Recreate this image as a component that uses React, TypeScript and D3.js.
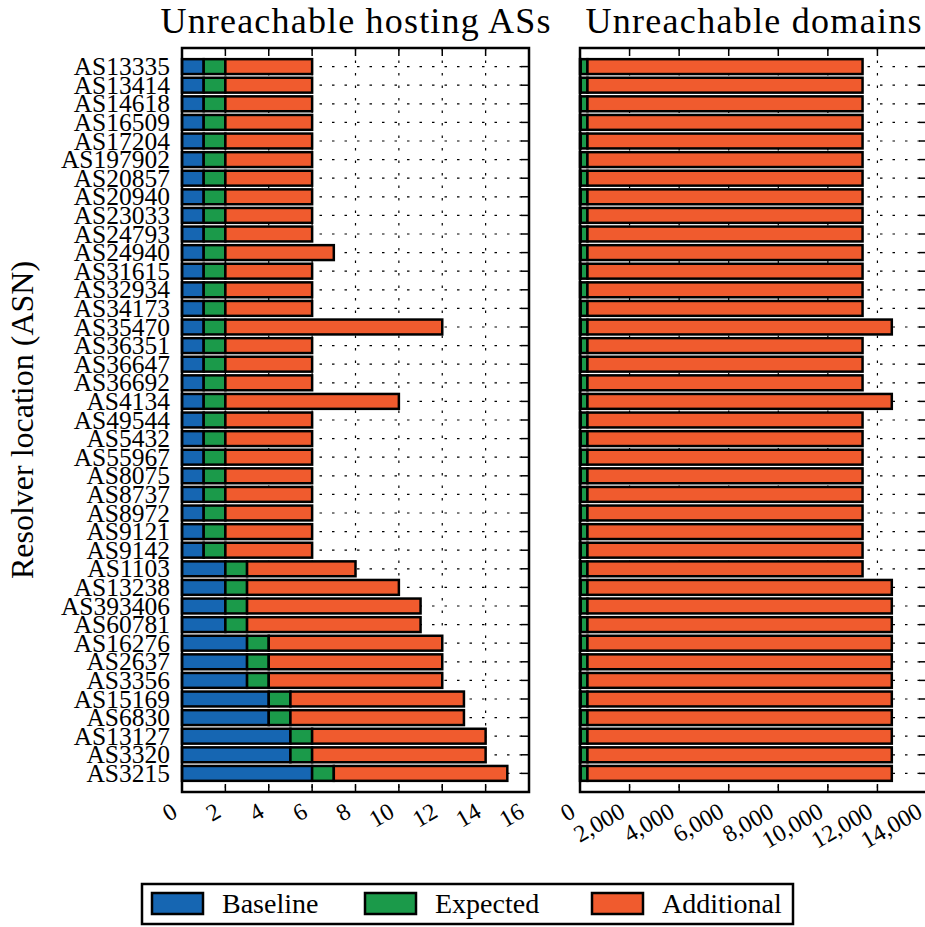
import { useEffect, useRef } from 'react';
import * as d3 from 'd3';

// resolver locations, top to bottom
const asns = [
  'AS13335', 'AS13414', 'AS14618', 'AS16509', 'AS17204', 'AS197902', 'AS20857', 'AS20940',
  'AS23033', 'AS24793', 'AS24940', 'AS31615', 'AS32934', 'AS34173', 'AS35470', 'AS36351',
  'AS36647', 'AS36692', 'AS4134', 'AS49544', 'AS5432', 'AS55967', 'AS8075', 'AS8737',
  'AS8972', 'AS9121', 'AS9142', 'AS1103', 'AS13238', 'AS393406', 'AS60781', 'AS16276',
  'AS2637', 'AS3356', 'AS15169', 'AS6830', 'AS13127', 'AS3320', 'AS3215',
];

// unreachable hosting ASs
const hostBaseline = [
  1, 1, 1, 1, 1, 1, 1, 1, 1, 1, 1, 1, 1, 1, 1, 1, 1, 1, 1, 1, 1, 1, 1, 1, 1, 1, 1,
  2, 2, 2, 2, 3, 3, 3, 4, 4, 5, 5, 6,
];
const hostExpected = [
  1, 1, 1, 1, 1, 1, 1, 1, 1, 1, 1, 1, 1, 1, 1, 1, 1, 1, 1, 1, 1, 1, 1, 1, 1, 1, 1,
  1, 1, 1, 1, 1, 1, 1, 1, 1, 1, 1, 1,
];
const hostAdditional = [
  4, 4, 4, 4, 4, 4, 4, 4, 4, 4, 5, 4, 4, 4, 10, 4, 4, 4, 8, 4, 4, 4, 4, 4, 4, 4, 4,
  5, 7, 8, 8, 8, 8, 8, 8, 8, 8, 8, 8,
];

// unreachable domains
const domBaseline = [
  30, 30, 30, 30, 30, 30, 30, 30, 30, 30, 30, 30, 30, 30, 30, 30, 30, 30, 30, 30, 30, 30, 30, 30, 30, 30, 30,
  30, 30, 30, 30, 30, 30, 30, 30, 30, 30, 30, 30,
];
const domExpected = [
  270, 270, 270, 270, 270, 270, 270, 270, 270, 270, 270, 270, 270, 270, 270, 270, 270, 270, 270, 270, 270, 270, 270, 270, 270, 270, 270,
  270, 270, 270, 270, 270, 270, 270, 270, 270, 270, 270, 270,
];
const domAdditional = [
  11100, 11100, 11100, 11100, 11100, 11100, 11100, 11100, 11100, 11100, 11100, 11100, 11100, 11100,
  12280, 11100, 11100, 11100, 12280, 11100, 11100, 11100, 11100, 11100, 11100, 11100, 11100,
  11100, 12280, 12280, 12280, 12280, 12280, 12280, 12280, 12280, 12280, 12280, 12280,
];

const hostTicks = [0, 2, 4, 6, 8, 10, 12, 14, 16];
const domTicks = [0, 2000, 4000, 6000, 8000, 10000, 12000, 14000];

const seriesKeys = ['baseline', 'expected', 'additional'];
const seriesNames = ['Baseline', 'Expected', 'Additional'];
const seriesColors = ['#1666b2', '#1b9a4a', '#f05b2e'];

const FONT = 'Liberation Serif';

export default function App() {
  const svgRef = useRef<SVGSVGElement>(null);

  useEffect(() => {
    if (!svgRef.current) return;
    const svg = d3.select(svgRef.current);
    svg.selectAll('*').remove();

    const top = 48;
    const bottom = 792;

    const y = d3.scaleBand<string>()
      .domain(asns)
      .range([top, bottom])
      .paddingInner(0.2)
      .paddingOuter(0.6);

    const stack = d3.stack<any>().keys(seriesKeys);

    const drawPanel = (
      left: number,
      right: number,
      maxX: number,
      ticks: number[],
      fmt: (v: number) => string,
      rows: any[],
      title: string,
      titleWidth: number,
      showNames: boolean
    ) => {
      const x = d3.scaleLinear().domain([0, maxX]).range([left, right]);
      const g = svg.append('g');

      // dotted grid
      g.append('g')
        .selectAll('line')
        .data(ticks)
        .join('line')
        .attr('x1', d => x(d)).attr('x2', d => x(d))
        .attr('y1', top).attr('y2', bottom)
        .attr('stroke', '#000').attr('stroke-width', 1.2)
        .attr('stroke-dasharray', '2.5,10');
      g.append('g')
        .selectAll('line')
        .data(asns)
        .join('line')
        .attr('x1', left).attr('x2', right)
        .attr('y1', d => y(d)! + y.bandwidth() / 2)
        .attr('y2', d => y(d)! + y.bandwidth() / 2)
        .attr('stroke', '#000').attr('stroke-width', 1.2)
        .attr('stroke-dasharray', '2.5,10');

      // inward ticks
      const tl = 8;
      const tg = g.append('g').attr('stroke', '#000').attr('stroke-width', 1.5);
      ticks.forEach(t => {
        tg.append('line').attr('x1', x(t)).attr('x2', x(t)).attr('y1', bottom).attr('y2', bottom - tl);
        tg.append('line').attr('x1', x(t)).attr('x2', x(t)).attr('y1', top).attr('y2', top + tl);
      });
      asns.forEach(a => {
        const cy = y(a)! + y.bandwidth() / 2;
        tg.append('line').attr('x1', left).attr('x2', left + tl).attr('y1', cy).attr('y2', cy);
        tg.append('line').attr('x1', right).attr('x2', right - tl).attr('y1', cy).attr('y2', cy);
      });

      // stacked bars
      const layers = stack(rows);
      g.append('g')
        .selectAll('g')
        .data(layers)
        .join('g')
        .attr('fill', (d, i) => seriesColors[i])
        .selectAll('rect')
        .data(d => d)
        .join('rect')
        .attr('x', d => x(d[0]))
        .attr('width', d => x(d[1]) - x(d[0]))
        .attr('y', d => y(d.data.asn)!)
        .attr('height', y.bandwidth())
        .attr('stroke', '#000')
        .attr('stroke-width', 2.5);

      // frame
      g.append('rect')
        .attr('x', left).attr('y', top)
        .attr('width', right - left).attr('height', bottom - top)
        .attr('fill', 'none').attr('stroke', '#000').attr('stroke-width', 2.5);

      // x tick labels, rotated
      g.append('g')
        .selectAll('text')
        .data(ticks)
        .join('text')
        .attr('transform', d => `translate(${x(d) - 3},${bottom + 24}) rotate(-30)`)
        .attr('text-anchor', 'end')
        .style('font-family', FONT)
        .style('font-size', '24px')
        .text(d => fmt(d));

      if (showNames) {
        g.append('g')
          .selectAll('text')
          .data(asns)
          .join('text')
          .attr('x', left - 12)
          .attr('y', d => y(d)! + y.bandwidth() / 2)
          .attr('dy', '0.34em')
          .attr('text-anchor', 'end')
          .style('font-family', FONT)
          .style('font-size', '25.5px')
          .text(d => d);
      }

      g.append('text')
        .attr('x', (left + right) / 2)
        .attr('y', 33)
        .attr('text-anchor', 'middle')
        .attr('textLength', titleWidth)
        .attr('lengthAdjust', 'spacing')
        .style('font-family', FONT)
        .style('font-size', '36px')
        .text(title);
    };

    const hostRows = asns.map((asn, i) => ({
      asn, baseline: hostBaseline[i], expected: hostExpected[i], additional: hostAdditional[i],
    }));
    const domRows = asns.map((asn, i) => ({
      asn, baseline: domBaseline[i], expected: domExpected[i], additional: domAdditional[i],
    }));

    drawPanel(182, 529, 16, hostTicks, d => String(d), hostRows, 'Unreachable hosting ASs', 390, true);
    drawPanel(580, 927, 14000, domTicks, d3.format(','), domRows, 'Unreachable domains', 336, false);

    // y axis label
    svg.append('text')
      .attr('transform', `translate(33,${(top + bottom) / 2}) rotate(-90)`)
      .attr('text-anchor', 'middle')
      .style('font-family', FONT)
      .style('font-size', '32px')
      .text('Resolver location (ASN)');

    // legend
    const lg = svg.append('g');
    lg.append('rect')
      .attr('x', 142).attr('y', 884).attr('width', 651).attr('height', 40)
      .attr('fill', '#fff').attr('stroke', '#000').attr('stroke-width', 2.5);
    const legendX = [152, 365, 592];
    seriesNames.forEach((name, i) => {
      lg.append('rect')
        .attr('x', legendX[i]).attr('y', 893).attr('width', 51).attr('height', 21)
        .attr('fill', seriesColors[i]).attr('stroke', '#000').attr('stroke-width', 2.5);
      lg.append('text')
        .attr('x', legendX[i] + 70).attr('y', 913)
        .style('font-family', FONT)
        .style('font-size', '28px')
        .text(name);
    });
  }, []);

  return (
    <div style={{ position: 'absolute', left: 0, top: 0 }}>
      <svg ref={svgRef} width={925} height={927} style={{ display: 'block', background: '#fff' }} />
    </div>
  );
}
